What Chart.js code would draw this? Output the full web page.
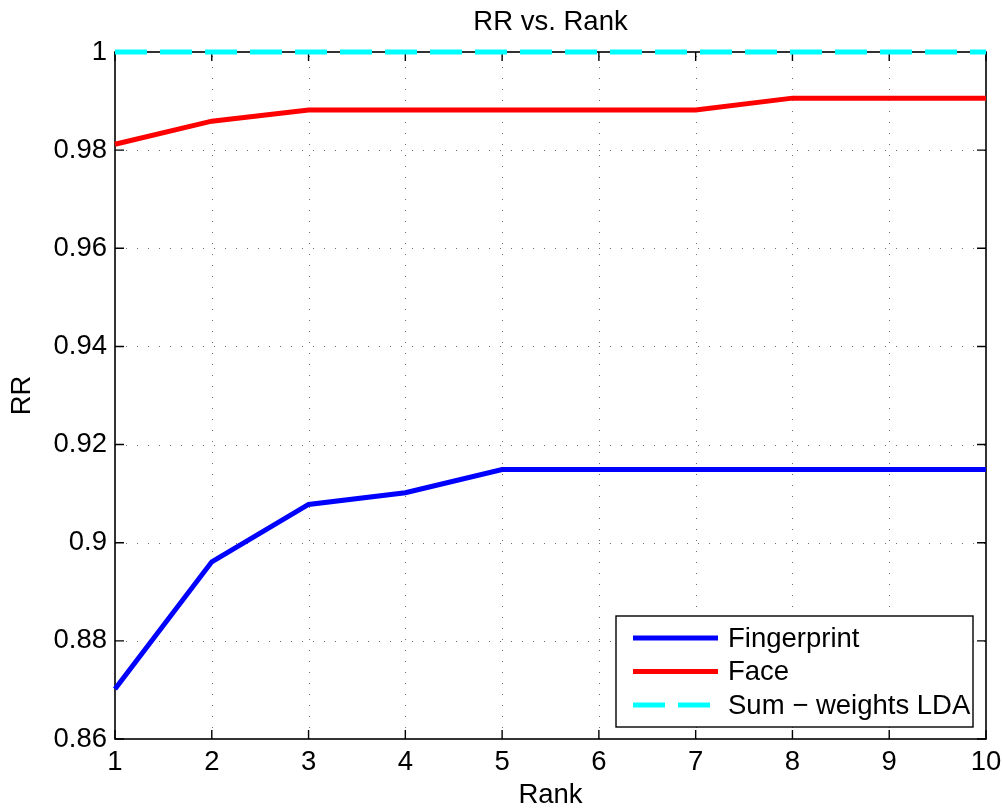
<!DOCTYPE html>
<html><head><meta charset="utf-8">
<script src="https://cdn.jsdelivr.net/npm/chart.js@4/dist/chart.umd.min.js"></script>
<style>html,body{margin:0;padding:0;background:#fff}#wrap{width:1003px;height:809px}</style>
</head><body><div id="wrap"><canvas id="c" width="1003" height="809"></canvas></div>
<script>
const ranks = [1,2,3,4,5,6,7,8,9,10];
const fingerprint = [0.8702,0.8961,0.9078,0.9102,0.9149,0.9149,0.9149,0.9149,0.9149,0.9149];
const face = [0.9812,0.9859,0.9882,0.9882,0.9882,0.9882,0.9882,0.9906,0.9906,0.9906];
const sumLDA = [1,1,1,1,1,1,1,1,1,1];
const yTicks = [0.86,0.88,0.9,0.92,0.94,0.96,0.98,1];
const yTickLabels = ['0.86','0.88','0.9','0.92','0.94','0.96','0.98','1'];
const titleText = 'RR vs. Rank';
const xTitle = 'Rank';
const yTitle = 'RR';

const FONT = '"Liberation Sans", Arial, Helvetica, sans-serif';
const FS = 27.5;

const framePlugin = {
  id: 'frame',
  beforeDatasetsDraw(chart) {
    const {ctx, chartArea: a, scales: {x, y}} = chart;
    ctx.save();
    ctx.strokeStyle = '#707070';
    ctx.lineWidth = 1;
    ctx.setLineDash([1, 10]);
    ranks.forEach((r, i) => {
      if (i === 0 || i === ranks.length - 1) return;
      const px = Math.round(x.getPixelForValue(i)) + 0.5;
      ctx.beginPath(); ctx.moveTo(px, a.bottom); ctx.lineTo(px, a.top); ctx.stroke();
    });
    yTicks.forEach((v, i) => {
      if (i === 0 || i === yTicks.length - 1) return;
      const py = Math.round(y.getPixelForValue(v)) + 0.5;
      ctx.beginPath(); ctx.moveTo(a.left, py); ctx.lineTo(a.right, py); ctx.stroke();
    });
    ctx.setLineDash([]);
    ctx.strokeStyle = '#000';
    ctx.lineWidth = 1.6;
    ctx.strokeRect(a.left, a.top, a.right - a.left, a.bottom - a.top);
    const tl = 9;
    ctx.lineWidth = 1.4;
    ranks.forEach((r, i) => {
      const px = x.getPixelForValue(i);
      ctx.beginPath();
      ctx.moveTo(px, a.bottom); ctx.lineTo(px, a.bottom - tl);
      ctx.moveTo(px, a.top); ctx.lineTo(px, a.top + tl);
      ctx.stroke();
    });
    yTicks.forEach(v => {
      const py = y.getPixelForValue(v);
      ctx.beginPath();
      ctx.moveTo(a.left, py); ctx.lineTo(a.left + tl, py);
      ctx.moveTo(a.right, py); ctx.lineTo(a.right - tl, py);
      ctx.stroke();
    });
    ctx.restore();
  },
  afterDraw(chart) {
    const {ctx, chartArea: a, scales: {x}} = chart;
    ctx.save();
    ctx.fillStyle = '#000';
    ctx.font = FS + 'px ' + FONT;
    ctx.textAlign = 'center';
    ctx.textBaseline = 'middle';
    ranks.forEach((r, i) => ctx.fillText(String(r), x.getPixelForValue(i), a.bottom + 23));
    const cx = (a.left + a.right) / 2;
    ctx.fillText(titleText, cx, 22);
    ctx.fillText(xTitle, cx, 795);
    ctx.save();
    ctx.translate(22, (a.top + a.bottom) / 2);
    ctx.rotate(-Math.PI / 2);
    ctx.fillText(yTitle, 0, 0);
    ctx.restore();
    const lx = 616, ly = 616, lw = 357, lh = 111;
    ctx.fillStyle = '#fff';
    ctx.fillRect(lx, ly, lw, lh);
    ctx.strokeStyle = '#000';
    ctx.lineWidth = 1.4;
    ctx.strokeRect(lx, ly, lw, lh);
    const rows = [638, 671.5, 705];
    chart.data.datasets.forEach((ds, i) => {
      const yy = rows[i];
      ctx.strokeStyle = ds.borderColor;
      ctx.lineWidth = ds.borderWidth;
      ctx.setLineDash(ds.borderDash || []);
      ctx.beginPath(); ctx.moveTo(633, yy); ctx.lineTo(718, yy); ctx.stroke();
      ctx.setLineDash([]);
      ctx.fillStyle = '#000';
      ctx.textAlign = 'left';
      ctx.textBaseline = 'middle';
      ctx.fillText(ds.label, 728, yy + 1);
    });
    ctx.restore();
  }
};

new Chart(document.getElementById('c'), {
  type: 'line',
  data: {
    labels: ranks,
    datasets: [
      {label: 'Fingerprint', data: fingerprint, borderColor: '#0000ff', borderWidth: 5, pointRadius: 0, tension: 0, clip: false},
      {label: 'Face', data: face, borderColor: '#ff0000', borderWidth: 5, pointRadius: 0, tension: 0, clip: false},
      {label: 'Sum \u2212 weights LDA', data: sumLDA, borderColor: '#00ffff', borderWidth: 5, borderDash: [32, 13], pointRadius: 0, tension: 0, clip: false}
    ]
  },
  options: {
    responsive: false,
    animation: false,
    layout: {padding: {left: 0, right: 17, top: 52, bottom: 0}},
    plugins: {legend: {display: false}, title: {display: false}, tooltip: {enabled: false}},
    scales: {
      x: {
        type: 'category',
        offset: false,
        grid: {display: false, drawTicks: false},
        border: {display: false},
        ticks: {display: false},
        afterFit(s) { s.height = 70; }
      },
      y: {
        type: 'linear',
        min: 0.86, max: 1,
        grid: {display: false, drawTicks: false},
        border: {display: false},
        afterBuildTicks(s) { s.ticks = yTicks.map(v => ({value: v})); },
        ticks: {color: '#000', font: {family: FONT, size: FS}, padding: 8,
          callback: (v) => { const i = yTicks.findIndex(t => Math.abs(t - v) < 1e-9); return i >= 0 ? yTickLabels[i] : ''; }},
        afterFit(s) { s.width = 115; }
      }
    }
  },
  plugins: [framePlugin]
});
</script></body></html>
